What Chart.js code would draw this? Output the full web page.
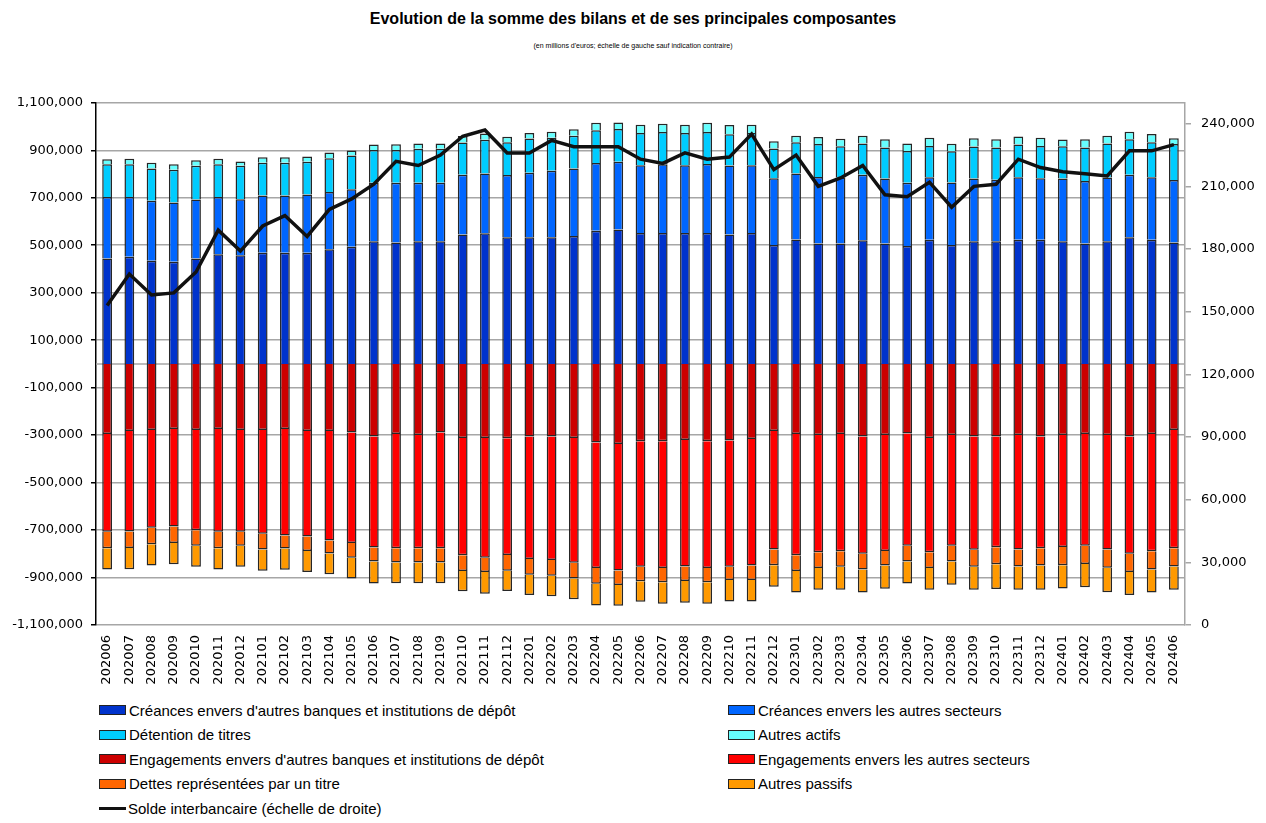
<!DOCTYPE html>
<html>
<head>
<meta charset="utf-8">
<script src="https://cdn.jsdelivr.net/npm/chart.js"></script>
<style>
body{margin:0;background:#fff;width:1266px;height:823px;position:relative;font-family:"Liberation Sans",Arial,sans-serif;overflow:hidden}
#title{position:absolute;top:10px;left:0;width:1266px;text-align:center;font-weight:bold;font-size:16px;color:#000}
#subtitle{position:absolute;top:42px;left:0;width:1266px;text-align:center;font-size:7px;color:#000}
#wrap{position:absolute;top:85px;left:0;width:1266px;height:615px}
#legend{position:absolute;top:700px;left:0;width:1266px;height:120px}
.item{position:absolute;height:20px;display:flex;align-items:center;font-size:15px;color:#000;white-space:nowrap}
.sw{width:25px;height:8px;border:1px solid #222;margin-right:3px}
.ln{width:27px;height:3px;background:#111;margin-right:2px}
</style>
</head>
<body>
<div id="title">Evolution de la somme des bilans et de ses principales composantes</div>
<div id="subtitle">(en millions d'euros; échelle de gauche sauf indication contraire)</div>
<div id="wrap"><canvas id="bilanChart"></canvas></div>
<div id="legend"></div>
<script>
// ==========================
// Data (millions d'euros)
// ==========================

const months=["202006","202007","202008","202009","202010","202011","202012",
"202101","202102","202103","202104","202105","202106","202107","202108","202109","202110","202111","202112",
"202201","202202","202203","202204","202205","202206","202207","202208","202209","202210","202211","202212",
"202301","202302","202303","202304","202305","202306","202307","202308","202309","202310","202311","202312",
"202401","202402","202403","202404","202405","202406"];

const creancesBanques=[444000,451000,435000,430000,444000,462000,458000,468000,468000,468000,483000,494000,517000,511000,517000,517000,545000,550000,534000,534000,534000,539000,561000,566000,551000,551000,551000,551000,545000,551000,501000,524000,507000,507000,521000,507000,497000,523000,501000,517000,517000,523000,523000,517000,507000,517000,534000,523000,511000];
const creancesSecteurs=[259000,252000,252000,250000,249000,241000,236000,241000,241000,246000,241000,242000,246000,252000,246000,246000,252000,252000,262000,271000,280000,284000,285000,286000,286000,290000,286000,291000,291000,286000,281000,278000,280000,278000,276000,274000,266000,263000,263000,264000,259000,263000,259000,264000,264000,268000,263000,263000,264000];
const detentionTitres=[138000,138000,136000,138000,142000,138000,141000,138000,138000,138000,142000,142000,138000,138000,143000,143000,136000,142000,138000,145000,139000,138000,138000,138000,136000,136000,136000,135000,132000,136000,125000,132000,139000,132000,132000,131000,134000,132000,132000,135000,136000,138000,136000,136000,141000,144000,149000,148000,151000];
const autresActifs=[21000,23000,24000,23000,23000,23000,18000,24000,24000,22000,25000,21000,23000,24000,23000,23000,27000,27000,23000,23000,25000,28000,32000,27000,34000,35000,34000,39000,38000,34000,31000,27000,30000,32000,32000,34000,32000,35000,32000,35000,34000,34000,35000,28000,34000,32000,32000,35000,25000];

const engagementsBanques=[-295000,-283000,-279000,-274000,-279000,-274000,-279000,-279000,-274000,-283000,-283000,-289000,-306000,-295000,-300000,-289000,-312000,-312000,-313000,-306000,-306000,-312000,-331000,-337000,-326000,-326000,-321000,-326000,-323000,-316000,-283000,-295000,-300000,-295000,-306000,-300000,-293000,-312000,-300000,-306000,-306000,-300000,-306000,-300000,-295000,-300000,-306000,-295000,-279000];
const engagementsSecteurs=[-412000,-423000,-411000,-411000,-422000,-433000,-428000,-437000,-449000,-444000,-461000,-466000,-467000,-482000,-477000,-488000,-494000,-505000,-492000,-516000,-520000,-526000,-529000,-533000,-529000,-534000,-533000,-534000,-532000,-533000,-499000,-511000,-494000,-494000,-494000,-488000,-473000,-482000,-466000,-477000,-466000,-482000,-471000,-471000,-471000,-482000,-494000,-494000,-498000];
const dettesTitre=[-70000,-70000,-70000,-70000,-65000,-70000,-59000,-66000,-55000,-61000,-55000,-62000,-59000,-60000,-60000,-60000,-66000,-60000,-66000,-66000,-66000,-66000,-66000,-62000,-61000,-60000,-61000,-60000,-55000,-61000,-66000,-66000,-66000,-66000,-66000,-61000,-66000,-66000,-66000,-72000,-72000,-72000,-72000,-77000,-77000,-77000,-77000,-77000,-77000];
const autresPassifs=[-89000,-89000,-89000,-89000,-89000,-89000,-89000,-89000,-89000,-89000,-87000,-87000,-93000,-87000,-87000,-87000,-86000,-91000,-86000,-86000,-87000,-87000,-92000,-87000,-86000,-91000,-91000,-91000,-91000,-91000,-91000,-91000,-91000,-97000,-97000,-98000,-93000,-91000,-98000,-97000,-104000,-97000,-103000,-98000,-98000,-103000,-97000,-97000,-97000];

const soldeInterbancaire=[153000,168000,158000,159000,169000,189000,179000,191000,196000,186000,199000,204000,211000,222000,220000,225000,234000,237000,226000,226000,232000,229000,229000,229000,223000,221000,226000,223000,224000,235000,218000,225000,210000,214000,220000,206000,205000,212000,200000,210000,211000,223000,219000,217000,216000,215000,227000,227000,230000];

const leftTicks=[-1100000,-900000,-700000,-500000,-300000,-100000,100000,300000,500000,700000,900000,1100000];
const rightTicks=[0,30000,60000,90000,120000,150000,180000,210000,240000];

// ==========================
// Chart
// ==========================

Chart.defaults.font.family="DejaVu Sans";
Chart.defaults.font.size=13;
Chart.defaults.color="#000";

function bar(label,data,color){
return {type:"bar",label:label,data:data,backgroundColor:color,borderColor:"#262626",borderWidth:1.5,
barPercentage:0.44,categoryPercentage:1,stack:"bilan",yAxisID:"y",order:1};
}

const zeroLine={
id:"zeroLine",
beforeDatasetsDraw(chart){
const c=chart.ctx,a=chart.chartArea,y=chart.scales.y.getPixelForValue(0);
c.save();c.strokeStyle="#a6a6a6";c.lineWidth=1.5;
c.beginPath();c.moveTo(a.left,y);c.lineTo(a.right,y);c.stroke();c.restore();
}
};

const chart=new Chart(document.getElementById("bilanChart"),{
data:{
labels:months,
datasets:[
bar("Créances envers d'autres banques et institutions de dépôt",creancesBanques,"#0033cc"),
bar("Créances envers les autres secteurs",creancesSecteurs,"#0066ff"),
bar("Détention de titres",detentionTitres,"#00ccff"),
bar("Autres actifs",autresActifs,"#66ffff"),
bar("Engagements envers d'autres banques et institutions de dépôt",engagementsBanques,"#cc0000"),
bar("Engagements envers les autres secteurs",engagementsSecteurs,"#ff0000"),
bar("Dettes représentées par un titre",dettesTitre,"#ff6600"),
bar("Autres passifs",autresPassifs,"#ff9900"),
{type:"line",label:"Solde interbancaire (échelle de droite)",data:soldeInterbancaire,
borderColor:"#111",backgroundColor:"#111",borderWidth:3.5,pointRadius:0,tension:0,yAxisID:"y1",order:0}
]
},
options:{
responsive:true,
maintainAspectRatio:false,
animation:false,
layout:{padding:{top:12,left:0,right:0,bottom:0}},
plugins:{legend:{display:false},tooltip:{enabled:false}},
scales:{
x:{
stacked:true,
grid:{display:false},
border:{display:false},
ticks:{minRotation:90,maxRotation:90,autoSkip:false,padding:2,font:{size:13}},
afterFit(s){s.height=75;}
},
y:{
stacked:true,
position:"left",
min:-1100000,max:1100000,
afterBuildTicks(s){s.ticks=leftTicks.map(v=>({value:v}));},
ticks:{callback:v=>v.toLocaleString("en-US"),padding:8},
grid:{color:"#a6a6a6",lineWidth:1.5,tickLength:5,tickColor:"#000"},
border:{color:"#000",width:1.5},
afterFit(s){s.width=96;}
},
y1:{
position:"right",
min:0,max:250000,
afterBuildTicks(s){s.ticks=rightTicks.map(v=>({value:v}));},
ticks:{callback:v=>v.toLocaleString("en-US"),padding:10},
grid:{drawOnChartArea:false,tickLength:6,tickColor:"#a6a6a6",lineWidth:1.5},
border:{color:"#a6a6a6",width:1.5},
afterFit(s){s.width=81;}
}
}
},
plugins:[zeroLine]
});

// ==========================
// Legend (two columns)
// ==========================

const legendBox=document.getElementById("legend");
chart.data.datasets.forEach((ds,i)=>{
const item=document.createElement("div");
item.className="item";
item.style.left=(i%2===0?99:728)+"px";
item.style.top=(Math.floor(i/2)*24.5)+"px";
const sw=document.createElement("span");
if(ds.type==="line"){sw.className="ln";}
else{sw.className="sw";sw.style.background=ds.backgroundColor;}
item.appendChild(sw);
item.appendChild(document.createTextNode(ds.label));
legendBox.appendChild(item);
});
</script>
</body>
</html>
